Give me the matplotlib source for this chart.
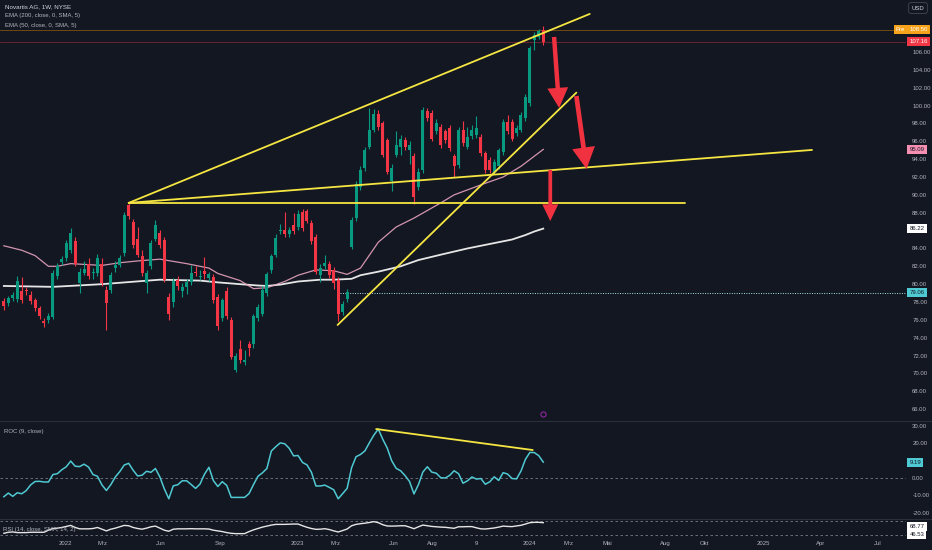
import matplotlib
matplotlib.use('Agg')
import matplotlib.pyplot as plt
import matplotlib.dates as mdates
import matplotlib.transforms as mtrans
from matplotlib.patches import FancyArrowPatch, ArrowStyle
from matplotlib.lines import Line2D
import numpy as np
import pandas as pd

plt.rcParams['font.family'] = ['Liberation Sans', 'DejaVu Sans']

# ---------------- data ----------------
first_week = '2021-09-27'
n_weeks = 122
opens = [78.1, 77.9, 78.4, 78.3, 79.2, 79.4, 78.8, 78.2, 77.3, 75.9,
         76.0, 76.3, 80.9, 82.5, 82.9, 83.8, 84.8, 80.1, 81.3, 82.3,
         81.2, 81.2, 82.3, 79.4, 79.4, 81.8, 82.2, 83.5, 88.9, 87.0,
         85.1, 83.1, 80.1, 82.0, 85.1, 85.7, 84.9, 78.6, 78.0, 80.5,
         79.2, 79.7, 80.2, 81.4, 80.85, 81.5, 80.7, 80.8, 78.6, 76.25,
         79.2, 76.0, 70.4, 72.7, 71.3, 73.3, 73.3, 76.2, 76.7, 79.0,
         81.6, 83.3, 85.9, 86.07, 85.6, 86.6, 86.4, 88.1, 88.2, 86.9,
         85.3, 81.0, 82.07, 82.3, 81.6, 80.5, 76.9, 78.3, 84.2, 87.4,
         90.9, 93.0, 95.4, 97.3, 99.1, 98.0, 96.1, 91.5, 94.5, 95.4,
         96.1, 95.0, 94.35, 90.9, 92.8, 99.4, 99.2, 97.1, 97.6, 97.1,
         97.45, 94.3, 93.35, 97.3, 95.4, 96.6, 96.7, 96.5, 94.65, 93.9,
         92.6, 93.2, 94.8, 98.2, 98.2, 96.9, 97.3, 98.6, 100.25, 107.3,
         107.7, 108.5]
highs = [78.5, 78.7, 79.1, 80.9, 80.8, 79.7, 79.2, 78.5, 77.6, 76.2,
         76.8, 81.6, 82.4, 83.2, 85.0, 86.3, 85.3, 81.8, 82.6, 82.9,
         81.8, 83.4, 82.9, 79.8, 81.4, 82.6, 83.3, 88.1, 89.1, 87.3,
         86.4, 83.8, 81.6, 85.0, 87.2, 86.1, 85.3, 79.0, 80.7, 80.9,
         80.1, 80.6, 82.2, 82.0, 81.6, 83.0, 81.4, 81.1, 78.9, 78.5,
         79.7, 76.3, 72.3, 73.8, 72.6, 73.6, 76.7, 77.8, 79.8, 81.4,
         83.4, 85.6, 86.7, 88.1, 86.4, 88.0, 88.3, 88.4, 88.4, 87.2,
         85.6, 82.3, 83.3, 82.6, 81.9, 80.8, 78.1, 79.5, 87.5, 91.5,
         93.2, 95.4, 99.7, 99.6, 99.5, 98.3, 96.4, 93.4, 97.1, 96.7,
         96.5, 96.0, 94.7, 93.0, 99.8, 99.7, 99.5, 98.5, 97.9, 97.4,
         97.8, 94.6, 97.6, 98.3, 97.6, 97.8, 98.8, 96.8, 94.9, 94.2,
         94.0, 95.3, 98.5, 98.9, 98.5, 97.8, 99.3, 101.3, 106.7, 108.2,
         108.6, 108.9]
lows = [77.1, 77.5, 78.1, 78.0, 77.9, 78.8, 77.8, 77.0, 76.1, 75.2,
        75.7, 76.1, 80.6, 82.2, 82.6, 83.5, 82.0, 79.0, 81.0, 80.6,
        80.6, 80.9, 79.8, 74.9, 79.0, 81.4, 81.9, 83.2, 87.3, 84.1,
        83.0, 80.9, 79.0, 81.7, 84.8, 84.0, 80.2, 76.0, 77.4, 79.3,
        78.6, 78.9, 79.9, 80.9, 80.5, 80.6, 80.4, 77.9, 74.9, 75.9,
        76.1, 71.6, 70.2, 71.2, 71.0, 72.0, 72.9, 75.9, 76.4, 78.7,
        81.3, 83.0, 85.6, 85.3, 85.3, 85.6, 86.1, 85.9, 86.8, 84.5,
        81.1, 80.2, 81.7, 80.7, 79.5, 75.9, 76.6, 78.0, 83.9, 87.1,
        90.6, 92.7, 95.1, 97.0, 97.3, 94.2, 92.3, 90.4, 94.2, 94.5,
        95.0, 93.4, 89.0, 90.6, 92.5, 98.3, 96.0, 96.8, 95.3, 95.8,
        94.9, 92.0, 93.0, 95.5, 95.1, 96.3, 96.4, 94.4, 92.5, 92.5,
        92.3, 92.9, 94.5, 96.8, 96.0, 96.6, 97.0, 98.3, 99.9, 106.2,
        107.4, 106.8]
closes = [77.5, 78.4, 78.8, 80.4, 78.2, 79.2, 78.1, 77.3, 76.4, 75.6,
          76.4, 81.3, 82.0, 82.8, 84.6, 85.7, 82.3, 81.4, 81.7, 80.9,
          81.4, 82.9, 80.1, 77.9, 81.0, 82.2, 82.9, 87.8, 87.6, 84.4,
          83.3, 81.2, 81.2, 84.6, 86.6, 84.4, 80.5, 76.7, 80.3, 79.8,
          79.7, 80.2, 81.3, 81.2, 80.95, 81.1, 81.1, 78.2, 75.3, 78.2,
          76.4, 71.9, 71.96, 71.5, 71.5, 72.9, 76.4, 77.4, 79.4, 81.1,
          83.1, 85.2, 86.1, 85.6, 86.07, 85.9, 87.9, 86.26, 87.1, 84.8,
          81.4, 81.8, 82.4, 81.0, 80.1, 76.7, 77.8, 79.16, 87.2, 91.2,
          92.8, 95.0, 97.3, 99.1, 97.6, 94.5, 92.6, 93.0, 95.6, 96.3,
          95.4, 95.6, 89.8, 92.6, 99.5, 98.6, 96.3, 98.1, 95.6, 96.1,
          95.2, 93.2, 97.3, 95.8, 96.5, 97.3, 97.45, 94.7, 92.8, 92.8,
          93.7, 95.0, 98.2, 97.1, 96.3, 97.45, 98.95, 101.0, 106.4, 107.9,
          108.3, 107.16]

ema200_idx = [0, 11, 22, 31, 35, 44, 48, 53, 57, 59, 62, 66, 71, 74, 78, 80,
              84, 89, 93, 98, 104, 110, 114, 117, 119, 121]
ema200_val = [79.8, 79.7, 80.0, 80.35, 80.5, 80.4, 80.2, 80.0, 79.85, 79.8,
              79.95, 80.3, 80.5, 80.5, 80.6, 81.0, 81.4, 82.0, 82.7, 83.3,
              84.0, 84.6, 85.0, 85.5, 85.9, 86.22]
ema50_idx = [0, 4, 7, 10, 12, 15, 22, 26, 30, 35, 41, 46, 48, 53, 56, 59, 63,
             66, 70, 74, 77, 80, 84, 88, 92, 98, 101, 108, 112, 116, 121]
ema50_val = [84.3, 83.8, 83.2, 82.0, 82.0, 82.3, 82.1, 82.4, 82.6, 82.8, 82.3,
             81.8, 81.2, 80.4, 79.5, 79.6, 80.3, 81.0, 81.6, 81.5, 81.1, 81.8,
             84.7, 86.4, 87.4, 89.1, 90.0, 91.3, 92.0, 93.2, 95.09]

roc = [-10.8, -8.7, -10.6, -8.5, -9.1, -7.3, -4.0, -2.0, -1.9, -2.3,
       -2.3, 2.0, 2.5, 4.8, 6.5, 9.8, 6.8, 6.6, 8.0, 6.3,
       2.0, 1.0, -4.0, -7.2, -3.8, 0.6, 3.7, 7.5, 8.5, 4.5,
       1.2, 1.6, 3.9, 3.3, 5.5, 0.6, -6.3, -12.0, -4.5, -3.9,
       -1.6, -1.6, -3.7, -6.0, -3.5, 2.2, 6.2, -1.5, -4.9, -2.1,
       -4.3, -11.2, -11.2, -11.2, -11.2, -9.0, -3.8, 1.0, 3.0, 5.5,
       15.6, 18.1, 20.3, 19.8, 17.2, 12.8, 13.0, 9.0, 7.6, 3.3,
       -4.6, -4.6, -4.1, -5.4, -6.8, -12.0, -9.0, -6.0, 5.9, 12.3,
       13.6, 15.7, 20.4, 24.8, 28.3, 22.4, 17.3, 10.0, 5.6, 4.2,
       1.4, -2.0, -9.2, -3.8, 3.5, 6.5, 3.4, 2.8, 0.2, 0.0,
       1.5, 4.2, 2.5, -3.0, -1.6, 0.6, -0.6, -0.3, -3.6, -2.2,
       0.7, -1.4, 3.1, 2.3, -0.3, -0.5, 4.0, 10.8, 14.8, 14.7,
       12.9, 9.19]
rsi = [35, 38, 39, 37, 37, 37, 38, 38, 38, 38,
       44, 49, 50, 52, 55, 58, 52, 48, 48, 48,
       49, 52, 47, 42, 47, 50, 54, 58, 57, 52,
       49, 47, 50, 54, 56, 50, 44, 41, 47, 48,
       48, 48, 48.5, 48, 48, 48, 47.5, 44, 42, 40,
       37, 35, 34, 34, 34, 40, 45, 49, 53, 56,
       59, 61, 61, 61, 61.5, 62, 62, 57, 52.5, 49,
       46.6, 47, 48.4, 46, 42, 38.8, 43, 47.5, 57, 61,
       63, 64.5, 66.5, 69, 66, 60, 56.3, 56, 56.3, 57,
       57, 53, 48.4, 54, 59, 57, 55, 54, 53, 52.5,
       51, 49.6, 54, 54, 54.5, 54.5, 51, 48, 47.5, 49,
       50.5, 53, 56, 55, 54.5, 56.5, 58.3, 62, 66, 67,
       67, 66]

# drawn objects (date, value pairs)
price_trends = [('2022-04-11', 89.1, '2024-04-04', 110.26),
                ('2022-04-11', 89.1, '2025-03-19', 95.03),
                ('2022-04-11', 89.1, '2024-08-31', 89.1),
                ('2023-03-05', 75.43, '2024-03-14', 101.45)]
roc_trend = ('2023-05-05', 28.3, '2024-01-05', 16.2)
arrows = [('2024-02-08', 107.68, '2024-02-16', 99.73, 1.5, 1.45, 0.32),
          ('2024-03-14', 101.07, '2024-03-30', 92.9, 1.65, 1.55, 0.34),
          ('2024-02-02', 92.79, '2024-02-02', 87.07, 1.15, 1.2, 0.27)]
hray_value = 79.06
pre_value = 108.50
last_close = 107.16
ema50_last = 95.09
ema200_last = 86.22
roc_last = 9.19
rsi_labels = ['68.77', '46.53']

price_ticks = [v for v in range(66, 107, 2) if v != 86]
roc_ticks = [30, 20, 0, -10, -20]
time_tick_dates = ['2022-01-01', '2022-03-01', '2022-06-01', '2022-09-01',
                   '2023-01-01', '2023-03-01', '2023-06-01', '2023-08-01',
                   '2023-10-09', '2024-01-01', '2024-03-01', '2024-05-01',
                   '2024-08-01', '2024-10-01', '2025-01-01', '2025-04-01',
                   '2025-07-01']
time_tick_labels = ['2022', 'Mrz', 'Jun', 'Sep', '2023', 'Mrz', 'Jun', 'Aug',
                    '9', '2024', 'Mrz', 'Mai', 'Aug', 'Okt', '2025', 'Apr', 'Jul']

# ---------------- style ----------------
BG = '#131722'
UP = '#089981'
DN = '#f23645'
YEL = '#f5e642'
TXT = '#b2b5be'
FS = 4.3

W, H = 932, 550
def rect(x0, y0, x1, y1):
    return [x0 / W, 1 - y1 / H, (x1 - x0) / W, (y1 - y0) / H]

fig = plt.figure(figsize=(W / 100, H / 100), dpi=100)
fig.patch.set_facecolor(BG)
ax = fig.add_axes(rect(0, 0, 906, 420))
axr = fig.add_axes(rect(0, 421, 906, 518), sharex=ax)
axs = fig.add_axes(rect(0, 519, 906, 537), sharex=ax)

dates = pd.date_range(first_week, periods=n_weeks, freq='7D')
xd = mdates.date2num(dates)
O, Hh, L, C = map(np.array, (opens, highs, lows, closes))

base = mdates.date2num(pd.Timestamp('2022-01-01'))
px_per_day = 232.6 / 365.25
xl = base - 65 / px_per_day
xr = xl + 906 / px_per_day

for a in (ax, axr, axs):
    a.set_facecolor(BG)
    for s in a.spines.values():
        s.set_visible(False)
    a.yaxis.tick_right()
    a.tick_params(axis='y', length=0, pad=4.5, labelsize=FS, labelcolor=TXT)
    a.tick_params(axis='x', length=0)
ax.set_xlim(xl, xr)
ax.set_ylim(64.79, 111.82)
axr.set_ylim(-23.1, 32.95)
axs.set_ylim(24.2, 76.7)

# candles
up = C >= O
col = np.where(up, UP, DN)
ax.vlines(xd, L, Hh, colors=col, lw=0.8, zorder=3)
ax.bar(xd, np.maximum(np.abs(C - O), 0.08), bottom=np.minimum(O, C),
       width=4.7, color=col, linewidth=0, zorder=4)

# EMAs
ax.plot(xd[ema200_idx], ema200_val, color='#e6e6e6', lw=1.3, zorder=2)
ax.plot(xd[ema50_idx], ema50_val, color='#e7a3bd', lw=0.9, alpha=0.9, zorder=2)

# horizontal lines
ax.axhline(pre_value, color='#ff9800', lw=0.6, alpha=0.45, zorder=1)
ax.axhline(last_close, color=DN, lw=0.6, alpha=0.45, zorder=1)
ax.hlines(hray_value, xd[75] + 3.5, xr, colors='#a8e6ee', lw=0.7,
          linestyles=(0, (1, 1.5)), zorder=2)

# trend lines
for d1, p1, d2, p2 in price_trends:
    ax.plot(mdates.date2num(pd.to_datetime([d1, d2])), [p1, p2],
            color=YEL, lw=1.3, zorder=5, solid_capstyle='round')

# arrows
for d1, p1, d2, p2, hw, hl, tw in arrows:
    x1, x2 = mdates.date2num(pd.to_datetime([d1, d2]))
    ar = FancyArrowPatch((x1, p1), (x2, p2),
                         arrowstyle=ArrowStyle.Simple(head_length=hl, head_width=hw, tail_width=tw),
                         mutation_scale=10, color='#f0313f', lw=0,
                         shrinkA=0, shrinkB=0, zorder=6)
    ax.add_patch(ar)

# event marker
tr_ev = mtrans.blended_transform_factory(ax.transData, ax.transAxes)
ax.scatter([xd[-1]], [0.015], transform=tr_ev, s=14, facecolor=BG,
           edgecolor='#9c27b0', lw=0.7, zorder=6, clip_on=False)

ax.set_yticks(price_ticks)
ax.set_yticklabels(['%.2f' % v for v in price_ticks])
plt.setp(ax.get_xticklabels(), visible=False)

# ROC pane
axr.plot(xd, roc, color='#4fc9d2', lw=1.1, zorder=3)
axr.axhline(0, color='#787b86', lw=0.6, ls=(0, (3, 3)))
axr.plot(mdates.date2num(pd.to_datetime([roc_trend[0], roc_trend[2]])),
         [roc_trend[1], roc_trend[3]], color=YEL, lw=1.3, zorder=4)
axr.set_yticks(roc_ticks)
axr.set_yticklabels(['%.2f' % v for v in roc_ticks])
plt.setp(axr.get_xticklabels(), visible=False)

# RSI pane
axs.plot(xd, rsi, color='#e6e6e6', lw=1.0, zorder=3)
axs.axhline(70, color='#787b86', lw=0.6, ls=(0, (3, 3)))
axs.axhline(30, color='#787b86', lw=0.6, ls=(0, (3, 3)))
axs.set_yticks([])

axs.set_xticks(mdates.date2num(pd.to_datetime(time_tick_dates)))
axs.set_xticklabels(time_tick_labels)
axs.tick_params(axis='x', labelsize=FS, labelcolor=TXT, pad=3)

# price-scale labels
def plabel(a, val, text, fc, tc, yaxes=False):
    if yaxes:
        tr = a.transAxes
    else:
        tr = mtrans.blended_transform_factory(a.transAxes, a.transData)
    a.text(1 + 3.5 / 906, val, text, transform=tr, ha='left', va='center',
           fontsize=FS, color=tc, clip_on=False, zorder=10,
           bbox=dict(boxstyle='square,pad=0.35', fc=fc, ec='none'))

plabel(ax, pre_value, '%.2f' % pre_value, '#f7a21b', 'white')
ax.text(1 - 10 / 906, pre_value, 'Pre',
        transform=mtrans.blended_transform_factory(ax.transAxes, ax.transData),
        ha='left', va='center', fontsize=FS, color='white', zorder=10,
        bbox=dict(boxstyle='square,pad=0.35', fc='#f7a21b', ec='none'))
plabel(ax, last_close, '%.2f' % last_close, DN, 'white')
plabel(ax, ema50_last, '%.2f' % ema50_last, '#f48fb1', '#131722')
plabel(ax, ema200_last, '%.2f' % ema200_last, 'white', '#131722')
plabel(ax, hray_value, '%.2f' % hray_value, '#4fc9d2', '#131722')
plabel(axr, roc_last, '%.2f' % roc_last, '#4fc9d2', '#131722')
plabel(axs, 0.6, rsi_labels[0], 'white', '#131722', yaxes=True)
plabel(axs, 0.12, rsi_labels[1], 'white', '#131722', yaxes=True)

# USD box
fig.text(918 / W, 1 - 8 / H, 'USD', ha='center', va='center', fontsize=FS,
         color='#d1d4dc',
         bbox=dict(boxstyle='round,pad=0.5,rounding_size=0.4', fc=BG, ec='#434651', lw=0.6))

# legends
fig.text(5 / W, 1 - 7 / H, 'Novartis AG, 1W, NYSE', fontsize=FS + 0.2,
         color='#d1d4dc', va='center', ha='left')
fig.text(5 / W, 1 - 16 / H, 'EMA (200, close, 0, SMA, 5)', fontsize=FS,
         color=TXT, va='center', ha='left')
fig.text(5 / W, 1 - 25 / H, 'EMA (50, close, 0, SMA, 5)', fontsize=FS,
         color=TXT, va='center', ha='left')
fig.text(4 / W, 1 - 431 / H, 'ROC (9, close)', fontsize=FS, color=TXT,
         va='center', ha='left')
fig.text(3 / W, 1 - 529 / H, 'RSI (14, close, SMA, 14, 2)', fontsize=FS,
         color=TXT, va='center', ha='left')

# pane separators
for yy in (420.5, 518.5):
    fig.add_artist(Line2D([0, 1], [1 - yy / H, 1 - yy / H], color='#2a2e39', lw=0.8))

fig.savefig('out.png', dpi=100, facecolor=BG)
